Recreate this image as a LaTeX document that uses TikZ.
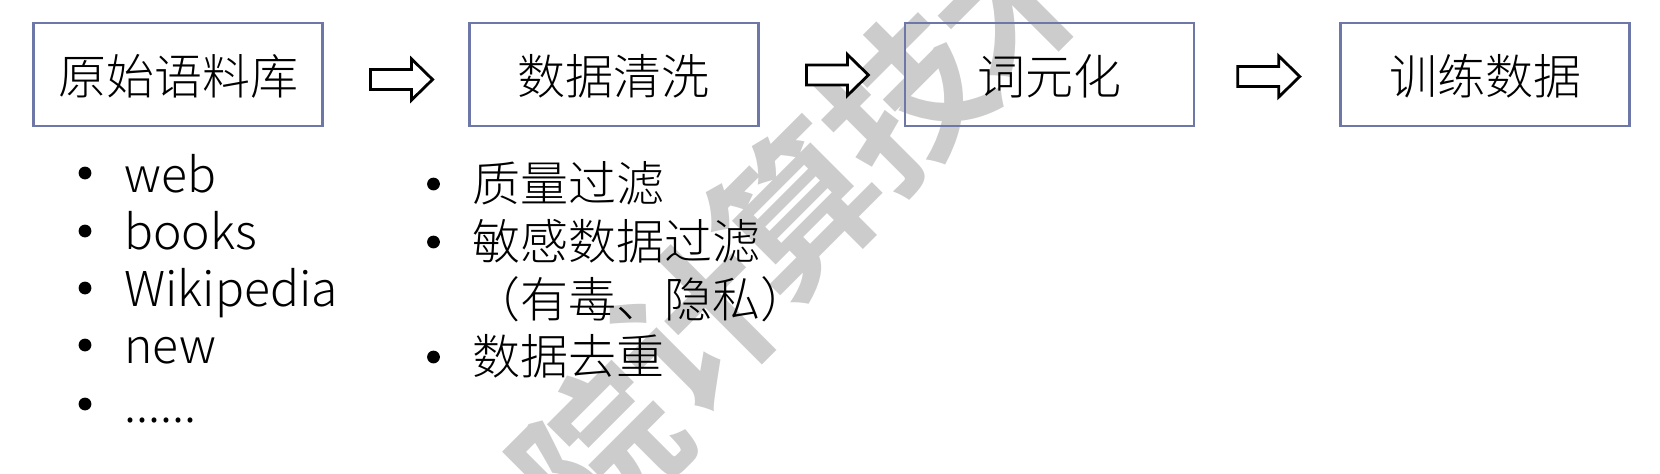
\documentclass[tikz,border=0pt]{standalone}
\usepackage{fontspec}
\setmainfont{Noto Sans CJK SC}[UprightFont=* Light, BoldFont=* Bold]
\usetikzlibrary{calc}
\definecolor{boxblue}{RGB}{110,120,168}
\definecolor{wmgray}{RGB}{204,204,204}
\tikzset{
  stage/.style={draw=boxblue, line width=1.25pt, minimum width=144.5pt, minimum height=51.5pt,
    inner sep=0pt, font=\fontsize{24pt}{28pt}\selectfont, text height=22.08pt, text depth=1.92pt},
  item/.style={anchor=base west, inner sep=0pt, font=\fontsize{24pt}{28pt}\selectfont},
  bulletdot/.style={circle, fill=black, draw=none, minimum size=6.4pt, inner sep=0pt},
  wm/.style={text=wmgray, font=\fontsize{80pt}{84pt}\selectfont\bfseries, rotate=45,
    inner sep=0pt, text height=70.4pt, text depth=9.6pt},
  blockarrow/.style={draw=black, line width=1.4pt, fill=white, line join=miter},
  pics/barrow/.style={code={
    \draw[blockarrow] (-31,-10) -- (10,-10) -- (10,-20.5) -- (31,0) -- (10,20.5) -- (10,10) -- (-31,10) -- cycle;}}
}
\begin{document}
\begin{tikzpicture}[x=0.5pt,y=-0.5pt]
\useasboundingbox (0,0) rectangle (1660,473);
% watermark
\begin{scope}
  \clip (0,0) rectangle (1660,473);
  \node[wm] (wm1) at (600,452) {院};
  \node[wm] (wm2) at (697,324) {计};
  \node[wm] (wm3) at (797,210) {算};
  \node[wm] (wm4) at (905,100) {技};
  \node[wm] (wm5) at (1013,-8) {术};
\end{scope}
% stages
\node[stage] (b1) at (178,74.5) {原始语料库};
\node[stage] (b2) at (613.75,74.5) {数据清洗};
\node[stage] (b3) at (1049.5,74.5) {词元化};
\node[stage] (b4) at (1485,74.5) {训练数据};
% arrows between stages
\coordinate (a1) at ($(b1.east)!0.5!(b2.west)+(5.7,5)$);
\coordinate (a2) at ($(b2.east)!0.5!(b3.west)+(5.8,0.5)$);
\coordinate (a3) at ($(b3.east)!0.5!(b4.west)+(1.5,2)$);
\pic (arr1) at (a1) {barrow};
\pic (arr2) at (a2) {barrow};
\pic (arr3) at (a3) {barrow};
% left list
\node[bulletdot] (d1) at (85,173) {};
\node[bulletdot] (d2) at (85,231) {};
\node[bulletdot] (d3) at (85,288) {};
\node[bulletdot] (d4) at (85,345) {};
\node[bulletdot] (d5) at (85,404) {};
\node[item] (t1) at (124,192) {web};
\node[item] (t2) at (124,249) {books};
\node[item] (t3) at (124,306) {Wikipedia};
\node[item] (t4) at (124,363) {new};
\node[item] (t5) at (124,422) {......};
% right list
\node[bulletdot] (e1) at (433.5,184) {};
\node[bulletdot] (e2) at (433.5,242) {};
\node[bulletdot] (e3) at (433.5,357) {};
\node[item] (s1) at (472,201) {质量过滤};
\node[item] (s2) at (472,259) {敏感数据过滤};
\node[item] (s3) at (472,317) {（有毒、隐私）};
\node[item] (s4) at (472,374) {数据去重};
\end{tikzpicture}
\end{document}
